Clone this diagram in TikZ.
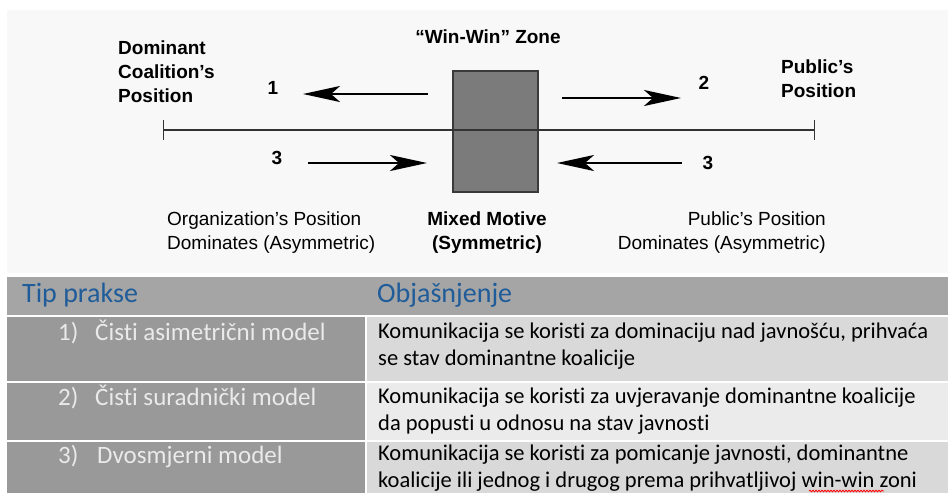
\documentclass[tikz,border=0pt]{standalone}
\usepackage{fontspec}
\setmainfont{Liberation Sans}
\newfontfamily\calfont[Ligatures=NoCommon]{Carlito}
\usetikzlibrary{arrows.meta,decorations.pathmorphing}
\definecolor{topbg}{HTML}{F8F8F8}
\definecolor{boxfill}{HTML}{7B7B7B}
\definecolor{boxline}{HTML}{3A3A3A}
\definecolor{hdrbg}{HTML}{A5A5A5}
\definecolor{hdrtxt}{HTML}{1F5C99}
\definecolor{leftbg}{HTML}{999999}
\definecolor{lefttxt}{HTML}{EAEAEA}
\definecolor{rowA}{HTML}{D9D9D9}
\definecolor{rowB}{HTML}{EBEBEB}
\definecolor{axis}{HTML}{333333}
\begin{document}
\begin{tikzpicture}[x=1pt,y=-1pt,
  lbl/.style={font=\fontsize{19}{24}\selectfont, inner sep=0pt, text=black},
  blbl/.style={font=\fontsize{19}{24}\selectfont\bfseries, inner sep=0pt, text=black},
  arr/.style={line width=2.4pt, -{Stealth[length=37pt,width=16pt,inset=9pt]}},
  hdr/.style={font=\calfont\fontsize{28}{32}\selectfont, text=hdrtxt, inner sep=0pt, anchor=west},
  lcell/.style={font=\calfont\fontsize{25}{30}\selectfont, text=lefttxt, inner sep=0pt, anchor=base west},
  rcell/.style={font=\calfont\fontsize{22.5}{27}\selectfont, text=black, inner sep=0pt, anchor=west, align=left}
]
\useasboundingbox (0,0) rectangle (948,493);
\fill[white] (0,0) rectangle (948,493);
% top background
\fill[topbg] (7,10) rectangle (948,273);

% win-win box
\node[draw=boxline, fill=boxfill, line width=1.2pt, minimum width=85pt, minimum height=121pt, inner sep=0pt] (zone) at (495.5,131.5) {};

% axis line with end ticks
\coordinate (axL) at (163,130);
\coordinate (axR) at (815,130);
\draw[axis, line width=1.4pt, {Bar[width=20pt,line width=1.4pt]}-{Bar[width=20pt,line width=1.4pt]}] (axL) -- (axR);

% arrows
\coordinate (a1s) at (428,94);  \coordinate (a1e) at (303,94);
\coordinate (a2s) at (562,98);  \coordinate (a2e) at (681,98);
\coordinate (a3s) at (308,163); \coordinate (a3e) at (427,163);
\coordinate (a4s) at (682,163); \coordinate (a4e) at (557,163);
\draw[arr] (a1s) -- (a1e);
\draw[arr] (a2s) -- (a2e);
\draw[arr] (a3s) -- (a3e);
\draw[arr] (a4s) -- (a4e);

% numbers
\node[blbl] (n1) at (273,88) {1};
\node[blbl] (n2) at (704,83) {2};
\node[blbl] (n3l) at (277,158) {3};
\node[blbl] (n3r) at (708,163) {3};

% labels
\node[blbl, align=center] (wz) at (488,37) {“Win-Win” Zone};
\node[blbl, align=left, anchor=west] (dom) at (118,72) {Dominant\\Coalition’s\\Position};
\node[blbl, align=left, anchor=west] (pub) at (781,79) {Public’s\\Position};
\node[lbl, align=left, anchor=west] (org) at (167,233) {Organization’s Position\\Dominates (Asymmetric)};
\node[blbl, align=center] (mix) at (487,233) {Mixed Motive\\(Symmetric)};
\node[lbl, align=right, anchor=east] (pubd) at (826,233) {Public’s Position\\Dominates (Asymmetric)};

% table backgrounds
\fill[hdrbg] (7,277) rectangle (948,315);
\fill[leftbg] (7,317) rectangle (365,381);
\fill[rowA] (367,317) rectangle (948,381);
\fill[leftbg] (7,383) rectangle (365,440);
\fill[rowB] (367,383) rectangle (948,440);
\fill[leftbg] (7,442) rectangle (365,493);
\fill[rowA] (367,442) rectangle (948,493);

% header
\node[hdr] (h1) at (22,295) {Tip prakse};
\node[hdr] (h2) at (377,295) {Objašnjenje};

% left cells
\node[lcell] (r1n) at (58,340) {1)};
\node[lcell] (r1t) at (95,340) {Čisti asimetrični model};
\node[lcell] (r2n) at (58,405) {2)};
\node[lcell] (r2t) at (95,405) {Čisti suradnički model};
\node[lcell] (r3n) at (58,463) {3)};
\node[lcell] (r3t) at (97,463) {Dvosmjerni model};

% right cells
\node[rcell] (r1e) at (378,346) {Komunikacija se koristi za dominaciju nad javnošću, prihvaća\\se stav dominantne koalicije};
\node[rcell] (r2e) at (378,411) {Komunikacija se koristi za uvjeravanje dominantne koalicije\\da popusti u odnosu na stav javnosti};
\node[rcell] (r3e) at (378,468) {Komunikacija se koristi za pomicanje javnosti, dominantne\\koalicije ili jednog i drugog prema prihvatljivoj win-win zoni};

% spell-check underline
\coordinate (sq1) at (809,491);
\coordinate (sq2) at (884,491);
\draw[red, line width=0.8pt, decorate, decoration={snake, amplitude=0.8pt, segment length=3pt}] (sq1) -- (sq2);
\end{tikzpicture}
\end{document}
